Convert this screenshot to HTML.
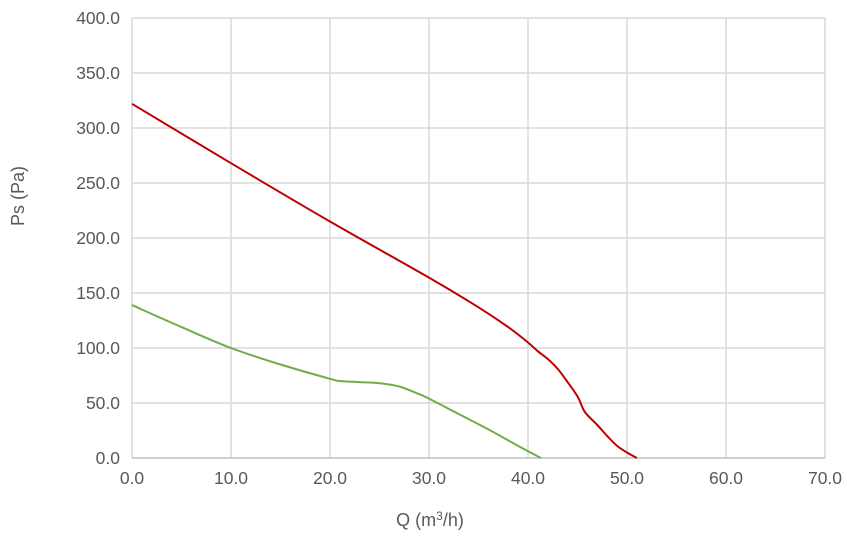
<!DOCTYPE html>
<html><head><meta charset="utf-8"><style>
body{margin:0;background:#fff;}
svg{display:block;font-family:"Liberation Sans",sans-serif;}
</style></head><body>
<svg id="chart" width="847" height="554">
<g id="grid"></g>
<g id="axes"></g>
<g id="series"></g>
<text x="430" y="526" text-anchor="middle" font-size="18" fill="#595959">Q (m<tspan font-size="12" dy="-6">3</tspan><tspan dy="6">/h)</tspan></text>
<text transform="translate(24,196) rotate(-90)" text-anchor="middle" font-size="18" fill="#595959">Ps (Pa)</text>
</svg>
<script>
const xTicks=[0,10,20,30,40,50,60,70];
const yTicks=[0,50,100,150,200,250,300,350,400];
const redQ=[0,10,20,30,35,38,40,41,42,43,44,45,45.6,46,47,48,49,50,51];
const redPs=[322,268,215,164,137,119,105,97,90,81,69,56,44,39,30,20,11,5,0];
const greenQ=[0,5,10,15,20,21,23,25,27,29,30,33,36,39,41.3];
const greenPs=[139,119,100,85,72,70,69,68,65,58,54,40,26,11,0];
const L=132,R=825,T=18,B=458;
const sx=v=>L+(v-0)/70*(R-L), sy=v=>B-v/400*(B-T);
const NS='http://www.w3.org/2000/svg';
function mk(tag,attrs,parent,text){const e=document.createElementNS(NS,tag);for(const k in attrs)e.setAttribute(k,attrs[k]);if(text!==undefined)e.textContent=text;parent.appendChild(e);return e;}
const grid=document.getElementById('grid'),axes=document.getElementById('axes'),ser=document.getElementById('series');
xTicks.forEach(v=>{
 const l=mk('line',{x1:sx(v),x2:sx(v),y1:T,y2:B,stroke:'#d9d9d9','stroke-width':1.5},grid);
 
 
 const t=mk('text',{x:sx(v),y:B+26,'text-anchor':'middle','font-size':17.5,fill:'#595959'},axes,v.toFixed(1));
 
 
});
yTicks.forEach(v=>{
 const l=mk('line',{x1:L,x2:R,y1:sy(v),y2:sy(v),stroke:v===0?'#bfbfbf':'#d9d9d9','stroke-width':1.5},grid);
 
 
 const t=mk('text',{x:L-12,y:sy(v)+6,'text-anchor':'end','font-size':17.5,fill:'#595959'},axes,v.toFixed(1));
 
 
});
function smooth(xs,ys){
 const p=xs.map((x,i)=>[sx(x),sy(ys[i])]);
 let d='M'+p[0][0]+','+p[0][1];
 for(let i=0;i<p.length-1;i++){
  const p0=p[Math.max(0,i-1)],p1=p[i],p2=p[i+1],p3=p[Math.min(p.length-1,i+2)];
  const c1=[p1[0]+(p2[0]-p0[0])/6,p1[1]+(p2[1]-p0[1])/6];
  const c2=[p2[0]-(p3[0]-p1[0])/6,p2[1]-(p3[1]-p1[1])/6];
  d+=` C${c1[0]},${c1[1]} ${c2[0]},${c2[1]} ${p2[0]},${p2[1]}`;
 }
 return d;
}
const r=mk('path',{d:smooth(redQ,redPs),fill:'none',stroke:'#c00000','stroke-width':2},ser);


const g=mk('path',{d:smooth(greenQ,greenPs),fill:'none',stroke:'#70ad47','stroke-width':2},ser);


</script>
</body></html>
